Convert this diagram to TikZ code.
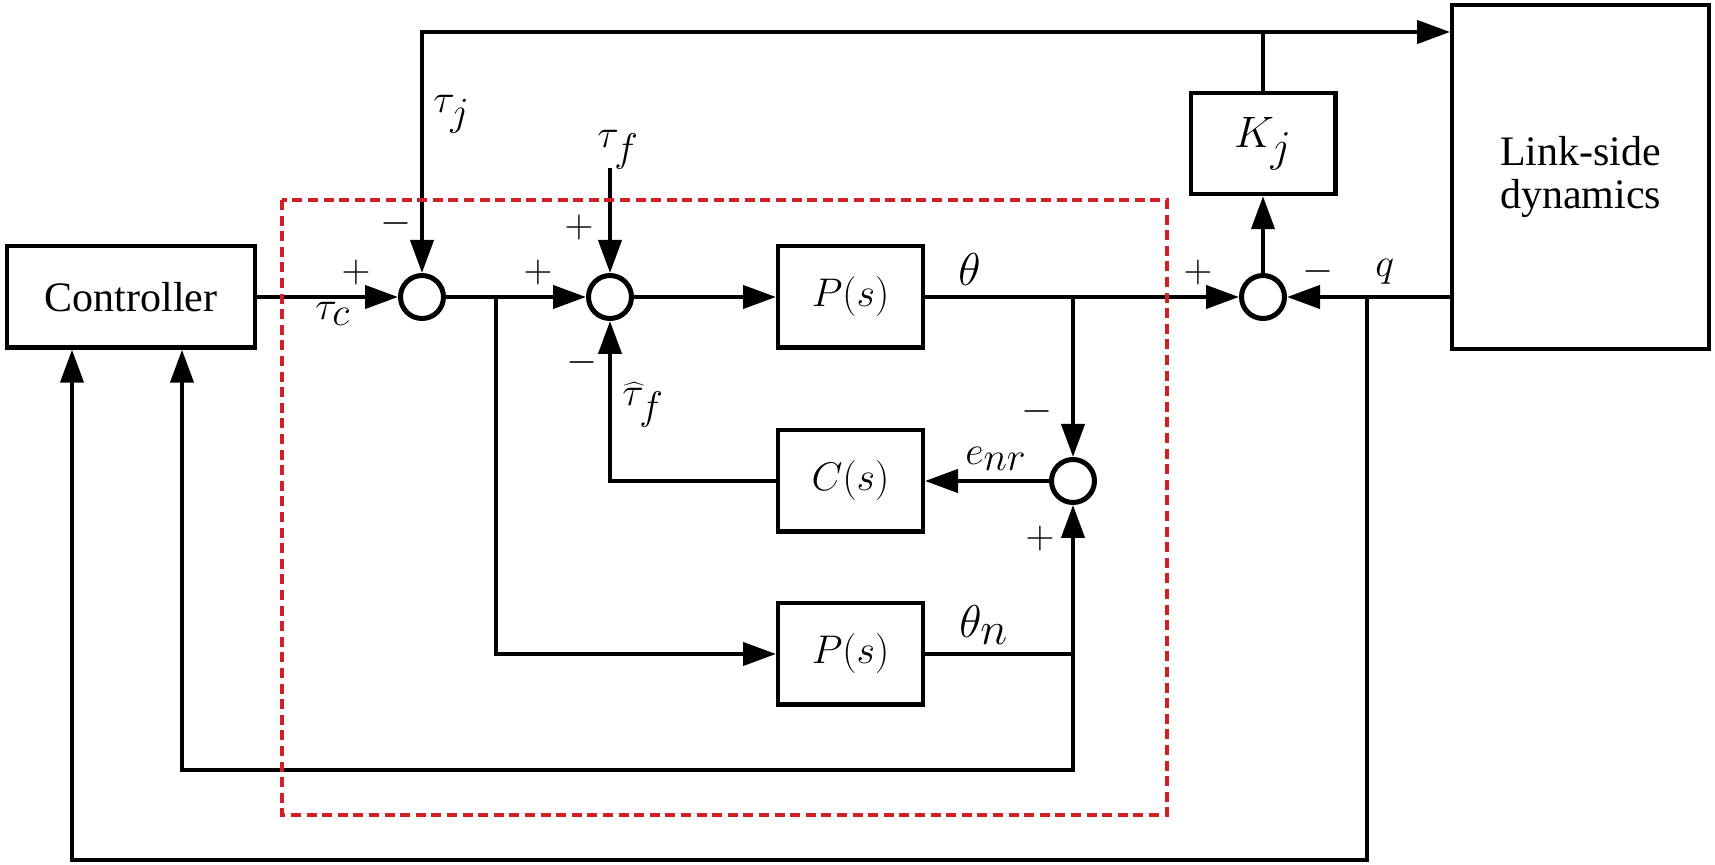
\RequirePackage{fix-cm}
\documentclass[tikz,border=0pt]{standalone}
\usepackage{fontspec}
\setmainfont{Liberation Serif}
\newfontfamily\textserif{Liberation Serif}
\usepackage{graphicx}
\usetikzlibrary{arrows.meta}
\definecolor{dashred}{RGB}{212,30,38}
\newcommand\fsub[1]{_{\textstyle #1}}
\tikzset{
  ln/.style={line width=2.1pt},
  arr/.style={ln, -{Triangle[length=16.5pt,width=11.5pt]}},
  blk/.style={draw, ln, inner sep=0pt, minimum width=72.4pt, minimum height=50.6pt, font=\fontsize{20}{24}\selectfont},
  sumc/.style={draw, circle, line width=2.5pt, inner sep=0pt, minimum size=21.5pt},
  sig/.style={inner sep=0pt, anchor=base west, font=\fontsize{20}{24}\selectfont},
  thsig/.style={sig, font=\fontsize{23}{27}\selectfont},
  sgn/.style={inner sep=0pt, font=\fontsize{20}{24}\selectfont},
  regionbox/.style={draw=dashred, line width=2.3pt, dash pattern=on 5pt off 2.8pt}
}
\begin{document}
\begin{tikzpicture}[x=0.5pt, y=-0.5pt]
\useasboundingbox (0,0) rectangle (1715,865);

% blocks
\node[blk, minimum width=123.8pt, font=\textserif\fontsize{21}{25}\selectfont] (ctrl) at (131,297) {Controller};
\node[sumc] (s1) at (422,297) {};
\node[sumc] (s2) at (610,297) {};
\node[blk] (P1) at (850.5,297) {$P\bigl(s\bigr)$};
\node[sumc] (s3) at (1263,297) {};
\node[blk, font=\fontsize{22}{26}\selectfont] (Kj) at (1263,143.5) {$K\fsub{j}$};
\node[blk, minimum width=128.3pt, minimum height=171.8pt, align=center, font=\textserif\fontsize{21}{21.5}\selectfont] (link) at (1580.5,177) {Link-side\\dynamics};
\node[blk] (C) at (850.5,481) {$C\bigl(s\bigr)$};
\node[sumc] (s4) at (1073,481) {};
\node[blk] (P2) at (850.5,654) {$P\bigl(s\bigr)$};

% coordinates
\coordinate (top) at (1263,32);
\coordinate (tf) at (610,168);
\coordinate (b1) at (496,297);
\coordinate (b2) at (1073,297);
\coordinate (b3) at (1073,654);
\coordinate (fb1) at (1073,770);
\coordinate (x2) at (182,770);
\coordinate (b4) at (1367,297);
\coordinate (fb2) at (1367,860);
\coordinate (x1) at (72,860);

% connectors
\draw[arr] (ctrl.east) -- (s1.west);
\draw[arr] (s1.east) -- (s2.west);
\draw[arr] (s2.east) -- (P1.west);
\draw[arr] (P1.east) -- (s3.west);
\draw[arr] (s3 -| link.west) -- (s3.east);
\draw[arr] (s3.north) -- (Kj.south);
\draw[ln] (Kj.north) -- (top);
\draw[arr] (top) -- (top -| link.west);
\draw[arr] (top) -| (s1.north);
\draw[arr] (tf) -- (s2.north);
\draw[arr] (b1) |- (P2.west);
\draw[arr] (b2) -- (s4.north);
\draw[arr] (s4.west) -- (C.east);
\draw[arr] (C.west) -| (s2.south);
\draw[ln] (P2.east) -- (b3);
\draw[arr] (b3) -- (s4.south);
\draw[arr] (b3) -- (fb1) -- (x2) -- (x2 |- ctrl.south);
\draw[arr] (b4) -- (fb2) -- (x1) -- (x1 |- ctrl.south);

% signal labels
\node[sig] (ltj) at (433,113) {$\tau\fsub{j}$};
\node[sig] (ltf) at (597,148) {$\tau\fsub{f}$};
\node[sig] (ltc) at (315,320) {$\tau\fsub{c}$};
\node[sig] (lthf) at (622,406) {$\widehat{\tau}\fsub{f}$};
\node[thsig] (lth) at (958,286) {$\theta$};
\node[thsig] (lthn) at (959,638) {$\theta\fsub{n}$};
\node[sig] (lq) at (1375,277) {$q$};
\node[sig] (lenr) at (965,465) {$e\fsub{nr}$};

% signs
\node[sgn] (p1) at (356,273) {$+$};
\node[sgn] (m1) at (396,224) {$-$};
\node[sgn] (p2) at (538,273) {$+$};
\node[sgn] (p3) at (579,228) {$+$};
\node[sgn] (m2) at (582,363) {$-$};
\node[sgn] (p4) at (1198,273) {$+$};
\node[sgn] (m3) at (1318,272) {$-$};
\node[sgn] (m4) at (1037,412) {$-$};
\node[sgn] (p5) at (1040,539) {$+$};

% dashed region
\draw[regionbox] (282,200) rectangle (1167,815);
\end{tikzpicture}
\end{document}
